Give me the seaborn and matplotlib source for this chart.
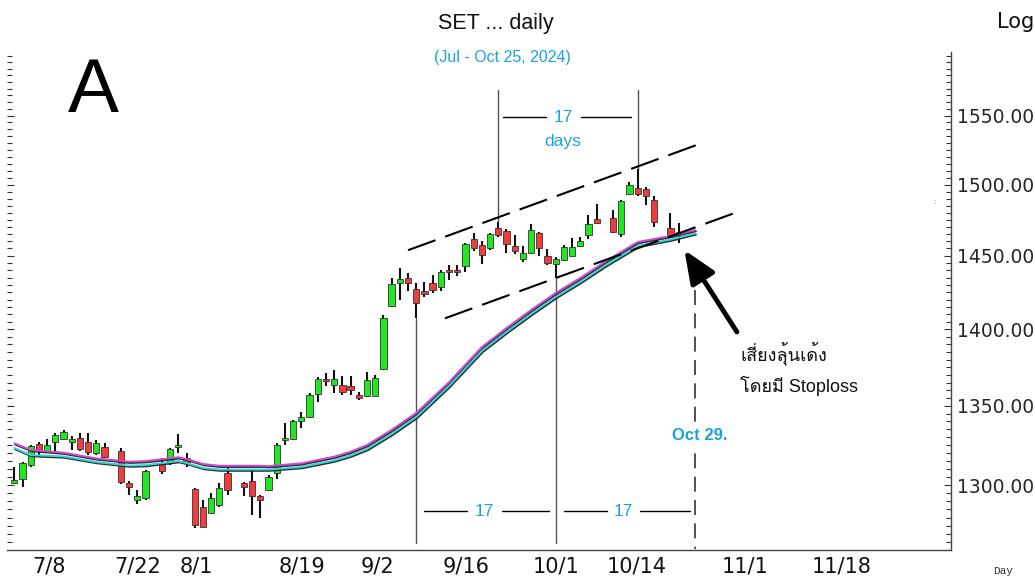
import matplotlib
matplotlib.use("Agg")
import numpy as np
import pandas as pd
import matplotlib.pyplot as plt
import matplotlib.patheffects as pe
from matplotlib.ticker import FixedLocator, FixedFormatter, NullFormatter
from matplotlib import font_manager as fm
from matplotlib.ft2font import FT2Font
import seaborn as sns

# ---------------- data ----------------
trade_dates = pd.bdate_range("2024-07-04", "2024-10-25")  # weekday slots, holidays left blank
nan = np.nan
open_ = [1301.5, 1304, 1312.5, 1325.5, 1321, 1327, 1329, 1327, 1329.5, 1327,
         1320, 1323.5, nan, 1321, 1301, 1290.5, 1292, nan, 1313, 1313.5,
         1323.5, 1317, 1297.5, 1286.5, 1283, 1287.5, 1307.5, nan, 1301, 1302.5,
         1293, 1297, 1307.5, 1328, 1329, 1340, 1343, 1357.5, 1367.5, 1363.5,
         1363.5, 1362.5, 1357, 1356, 1356.5, 1374, 1415.5, 1431.5, 1434.5, 1427.5,
         1425.5, 1431, 1428.5, 1440.5, 1440.5, 1443, 1461.5, 1457.5, 1455, 1469.5,
         1467, 1457, 1447.5, 1452, 1465.5, 1450, 1444.5, 1447, 1450, 1457,
         1464.5, 1475.5, nan, 1476, 1465, 1493.5, 1497.5, 1496.5, 1489, nan,
         1469, 1466.5]
high = [1311, 1314.5, 1325, 1327, 1329, 1332.5, 1334.5, 1331, 1332.5, 1332.5,
        1328, 1326.5, nan, 1323, 1302.5, 1297, 1309.5, nan, 1317, 1323,
        1332, 1320, 1298, 1291, 1295, 1301, 1311.5, nan, 1302, 1309.5,
        1294, 1306, 1326, 1339, 1341, 1346, 1358, 1368.5, 1371, 1373,
        1369, 1369, 1359, 1372, 1370, 1409.5, 1434.5, 1441.5, 1438, 1431.5,
        1432, 1437, 1440, 1443.5, 1443.5, 1459, 1466, 1460, 1466, 1473.5,
        1468.5, 1464.5, 1456.5, 1472, 1466.5, 1454.5, 1449, 1457.5, 1462.5, 1463,
        1478.5, 1486, nan, 1482, 1489, 1502, 1511, 1498, 1491.5, nan,
        1479.5, 1473]
low = [1300.5, 1299, 1311.5, 1318.5, 1320, 1321, 1328, 1322, 1321, 1318.5,
       1318.5, 1317, nan, 1300.5, 1294, 1288.5, 1291, nan, 1307, 1312.5,
       1320, 1311.5, 1273.5, 1274, 1282.5, 1286.5, 1294, nan, 1293, 1281.5,
       1279.5, 1296.5, 1304, 1325, 1328, 1335.5, 1342, 1352.5, 1362.5, 1358,
       1357, 1357, 1353.5, 1355.5, 1356, 1373, 1415, 1419.5, 1425.5, 1407.5,
       1422, 1424.5, 1426, 1433.5, 1436, 1439, 1453, 1444.5, 1454, 1463,
       1452, 1451.5, 1446, 1451.5, 1449.5, 1443.5, 1434.5, 1446.5, 1449.5, 1456,
       1461.5, 1472, nan, 1465.5, 1463, 1492.5, 1491.5, 1485.5, 1470, nan,
       1463, 1459]
close = [1303, 1314, 1324.5, 1321, 1325, 1331.5, 1333.5, 1329, 1322.5, 1320.5,
         1326.5, 1317.5, nan, 1302, 1299, 1293, 1309, nan, 1308.5, 1322.5,
         1325, 1314.5, 1275.5, 1274.5, 1292, 1298, 1297, nan, 1298.5, 1293,
         1290.5, 1305, 1325, 1329.5, 1340, 1343, 1357, 1367, 1366, 1367.5,
         1359, 1360.5, 1355, 1366.5, 1368, 1407.5, 1430.5, 1434, 1431, 1417.5,
         1423.5, 1426.5, 1439, 1439, 1438.5, 1458, 1455, 1450.5, 1465, 1464.5,
         1458, 1453, 1452, 1468, 1455, 1445, 1447.5, 1456, 1456, 1460,
         1472, 1472.5, nan, 1466.5, 1488.5, 1499.5, 1493, 1492, 1473.5, nan,
         1464.5, 1465.5]

# moving averages (read at selected slots)
ma_slot = [0, 2, 6, 10, 14, 16, 20, 21, 23, 25, 30, 31, 35, 39, 41, 43, 46, 49,
           53, 57, 60, 63, 66, 69, 72, 75, 76, 80, 83]
ma_upper = [1326.1, 1321.9, 1320.2, 1316.6, 1314.5, 1314.9, 1317.3, 1316.2, 1313.1,
            1312.0, 1312.0, 1311.8, 1313.5, 1317.7, 1320.8, 1325.0, 1334.6, 1345.4,
            1365.3, 1388.3, 1400.9, 1413.0, 1424.5, 1434.7, 1445.8, 1456.1, 1459.5,
            1463.7, 1467.8]
ma_lower = [1323.1, 1318.7, 1317.8, 1314.3, 1312.1, 1312.4, 1314.9, 1313.7, 1310.6,
            1309.6, 1309.6, 1309.6, 1311.2, 1315.3, 1318.4, 1322.5, 1332.0, 1342.8,
            1362.8, 1385.7, 1398.3, 1410.3, 1421.8, 1432.0, 1443.1, 1453.3, 1456.8,
            1461.2, 1465.5]

tick_slots = [2, 12, 20, 32, 42, 52, 63, 72, 86, 97]
tick_labels = ["7/8", "7/22", "8/1", "8/19", "9/2", "9/16", "10/1", "10/14", "11/1", "11/18"]
price_ticks = [1300, 1350, 1400, 1450, 1500, 1550]

# channel lines (slot, price)
upper_chan_x = [48.0, 84.2]
upper_chan_y = [1453.8, 1530.7]
lower_chan_x = [52.5, 88.5]
lower_chan_y = [1407.4, 1481.2]

# ---------------- fonts ----------------
def find_font(cp):
    seen = set()
    for f in fm.fontManager.ttflist:
        if f.fname in seen:
            continue
        seen.add(f.fname)
        try:
            if cp in FT2Font(f.fname).get_charmap():
                return f.name
        except Exception:
            continue
    return None

thai_family = find_font(0x0E40)

sns.set_style("white")
plt.rcParams["font.family"] = ["DejaVu Sans"]

W, H = 1035, 578
fig = plt.figure(figsize=(W / 100, H / 100), dpi=100)
ax = fig.add_axes([7 / W, 1 - 550 / H, (951 - 7) / W, (550 - 52) / H])
ax.set_yscale("log")
ax.set_xlim(-0.89, 114.2)
ax.set_ylim(1260.4, 1597.7)

def px(x, y):
    return x / W, 1 - y / H

# ---------------- candles ----------------
df = pd.DataFrame({"slot": np.arange(len(trade_dates)), "open": open_, "high": high,
                   "low": low, "close": close}).dropna()
up = df["close"] >= df["open"]
green, red = "#22e622", "#f03c3c"
ax.vlines(df["slot"], df["low"], df["high"], color="#111111", lw=1.5, zorder=3)
d_up = df[up]
d_dn = df[~up]
ax.bar(d_up["slot"], d_up["close"] - d_up["open"], bottom=d_up["open"], width=0.76,
       color=green, edgecolor="#333333", linewidth=0.6, zorder=4)
ax.bar(d_dn["slot"], d_dn["open"] - d_dn["close"], bottom=d_dn["close"], width=0.76,
       color=red, edgecolor="#333333", linewidth=0.6, zorder=4)

# ---------------- moving averages ----------------
shadow = [pe.SimpleLineShadow(offset=(0.6, -0.9), shadow_color="#222222", alpha=0.95,
                              rho=1.0), pe.Normal()]
sns.lineplot(x=ma_slot, y=ma_upper, ax=ax, color="#d048d0", lw=1.4, estimator=None,
             sort=False, path_effects=shadow, zorder=5)
sns.lineplot(x=ma_slot, y=ma_lower, ax=ax, color="#30d4d4", lw=1.4, estimator=None,
             sort=False, path_effects=shadow, zorder=5)

# ---------------- channel lines ----------------
ax.plot(upper_chan_x, upper_chan_y, color="black", lw=1.5, dashes=(14, 5), zorder=6)
ax.plot(lower_chan_x, lower_chan_y, color="black", lw=1.5, dashes=(14, 5), zorder=6)

# ---------------- vertical marker lines ----------------
vc = "#555555"
ax.plot([59, 59], [1569.1, 1473.5], color=vc, lw=1.0, zorder=2)
ax.plot([76, 76], [1569.1, 1511.0], color=vc, lw=1.0, zorder=2)
ax.plot([49, 49], [1407.5, 1264.6], color=vc, lw=1.0, zorder=2)
ax.plot([66, 66], [1434.5, 1264.6], color=vc, lw=1.0, zorder=2)
ax.plot([83, 83], [1426.5, 1261.0], color="#333333", lw=1.2, dashes=(9, 5), zorder=2)

# measure lines
ax.plot([59.6, 64.8], [1549.0, 1549.0], color="black", lw=1.0)
ax.plot([69.1, 75.2], [1549.0, 1549.0], color="black", lw=1.0)
ax.plot([50.0, 55.2], [1284.0, 1284.0], color="black", lw=1.0)
ax.plot([59.4, 65.2], [1284.0, 1284.0], color="black", lw=1.0)
ax.plot([67.0, 72.3], [1284.0, 1284.0], color="black", lw=1.0)
ax.plot([76.3, 82.4], [1284.0, 1284.0], color="black", lw=1.0)

blue = "#1ba1e2"
ax.text(66.9, 1549.0, "17", color=blue, fontsize=12.5, ha="center", va="center",
        family="Liberation Sans")
ax.text(66.9, 1530.7, "days", color=blue, fontsize=12.5, ha="center", va="center",
        family="Liberation Sans")
ax.text(57.3, 1284.0, "17", color=blue, fontsize=12.5, ha="center", va="center",
        family="Liberation Sans")
ax.text(74.3, 1284.0, "17", color=blue, fontsize=12.5, ha="center", va="center",
        family="Liberation Sans")
ax.text(83.6, 1330.9, "Oct 29.", color=blue, fontsize=12, fontweight="bold",
        ha="center", va="center", family="Liberation Sans", zorder=7,
        bbox=dict(facecolor="white", edgecolor="none", pad=1))

# arrow
ax.annotate("", xy=(81.7, 1453.9), xytext=(88.1, 1398.3),
            arrowprops=dict(arrowstyle="-|>,head_length=1.0,head_width=0.42",
                            lw=3.5, color="black", mutation_scale=20,
                            shrinkA=0, shrinkB=0), zorder=7)

thai_fam = ["Liberation Sans"] + ([thai_family] if thai_family else [])
fig.text(*px(740, 360), "เสี่ยงลุ้นเด้ง", fontsize=13, family=thai_fam, color="#111111",
         ha="left", va="baseline")
fig.text(*px(740, 392.5), "โดยมี Stoploss", fontsize=13, family=thai_fam, color="#111111",
         ha="left", va="baseline")

# ---------------- axes styling ----------------
for s in ["top", "left"]:
    ax.spines[s].set_visible(False)
for s in ["right", "bottom"]:
    ax.spines[s].set_color("#444444")
    ax.spines[s].set_linewidth(1.0)

ax.yaxis.set_major_locator(FixedLocator(price_ticks))
ax.yaxis.set_major_formatter(FixedFormatter([f"{p:.2f}" for p in price_ticks]))
minors = [v for v in range(1265, 1600, 5) if v not in price_ticks]
ax.yaxis.set_minor_locator(FixedLocator(minors))
ax.yaxis.set_minor_formatter(NullFormatter())
ax.tick_params(axis="y", which="both", direction="in", left=True, right=True,
               labelleft=False, labelright=True, color="#333333", width=0.8)
ax.tick_params(axis="y", which="major", length=5, labelsize=13.5, pad=4)
ax.tick_params(axis="y", which="minor", length=3.5)

ax.xaxis.set_major_locator(FixedLocator(tick_slots))
ax.xaxis.set_minor_locator(FixedLocator([]))
ax.tick_params(axis="x", which="major", direction="out", length=22, width=1.0,
               color="#444444", labelbottom=False)
for s, lab in zip(tick_slots, tick_labels):
    ax.text(s + 0.2, -0.0445, lab, transform=ax.get_xaxis_transform(), ha="left",
            va="baseline", fontsize=15, color="#111111", clip_on=False)

# ---------------- titles ----------------
fig.text(*px(93, 112), "A", fontsize=55, ha="center", va="baseline",
         family="Liberation Sans", color="black")
fig.text(*px(496, 28.5), "SET ... daily", fontsize=15.5, ha="center", va="baseline",
         family="Liberation Sans", color="#111111")
fig.text(*px(502, 62.3), "(Jul - Oct 25, 2024)", fontsize=11.5, ha="center",
         va="baseline", family="Liberation Sans", color=blue)
fig.text(*px(997, 28.5), "Log", fontsize=15, ha="left", va="baseline", color="#111111")
fig.text(*px(1003, 574), "Day", fontsize=8, ha="center", va="baseline",
         family="Liberation Mono", color="#333333")
fig.text(*px(934, 202), ":", fontsize=5, ha="center", va="center", color="#777777")

fig.savefig("out.png", dpi=100)
